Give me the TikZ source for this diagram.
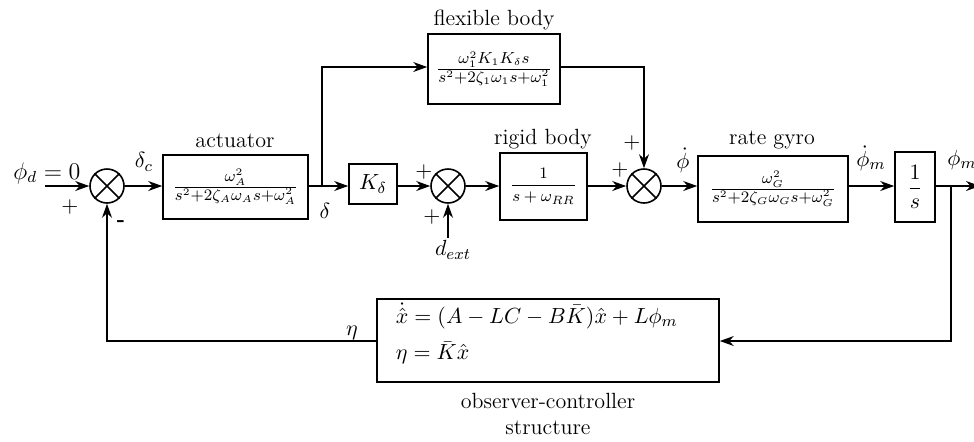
\documentclass[tikz,border=0pt]{standalone}
\usetikzlibrary{arrows.meta}
\begin{document}
\begin{tikzpicture}[x=0.5pt,y=-0.5pt,
  font=\fontsize{11}{13}\selectfont,
  line width=0.8pt,
  blk/.style={draw,rectangle,inner sep=0pt},
  sumj/.style={draw,circle,minimum size=17pt,inner sep=0pt},
  arr/.style={-{Stealth[length=7pt,width=5pt]}},
  lbl/.style={inner sep=0pt}]
\useasboundingbox (0,0) rectangle (974,441);
% sums
\node[sumj] (s1) at (107,186) {};
\node[sumj] (s2) at (448,186) {};
\node[sumj] (s3) at (644,186) {};
\foreach \s in {s1,s2,s3}{
  \draw (\s.north west) -- (\s.south east);
  \draw (\s.north east) -- (\s.south west);
}
% blocks
\node[blk,minimum width=72.5pt,minimum height=32pt] (act) at (235.5,187) {$\frac{\omega_A^2}{s^2+2\zeta_A\omega_A s+\omega_A^2}$};
\node[blk,minimum width=24pt,minimum height=20pt] (K) at (373,184) {$K_\delta$};
\node[blk,minimum width=66pt,minimum height=35pt] (flex) at (494,69) {$\frac{\omega_1^2K_1K_\delta s}{s^2+2\zeta_1\omega_1 s+\omega_1^2}$};
\node[blk,minimum width=43.5pt,minimum height=33.5pt] (rig) at (543.5,186.5) {\fontsize{8.5}{10}\selectfont$\displaystyle\frac{1}{s+\omega_{RR}}$};
\node[blk,minimum width=75pt,minimum height=33pt] (gyro) at (773,189) {$\frac{\omega_G^2}{s^2+2\zeta_G\omega_G s+\omega_G^2}$};
\node[blk,minimum width=20pt,minimum height=35pt] (int) at (915,187) {$\displaystyle\frac{1}{s}$};
\node[blk,minimum width=171pt,minimum height=41.5pt] (obs) at (548,340.5) {};
% coordinates
\coordinate (in) at (45,186);
\coordinate (b1) at (322,186);
\coordinate (b1up) at (322,67);
\coordinate (dext) at (448,238);
\coordinate (out) at (980,186);
\coordinate (b2) at (951,186);
\coordinate (fb) at (951,341);
% connectors
\draw[arr] (in) -- (s1.west);
\draw[arr] (s1.east) -- (s1.east -| act.west);
\draw[arr] (s1.east -| act.east) -- (s1.east -| K.west);
\draw[arr] (b1) -- (b1up) -- (b1up -| flex.west);
\draw[arr] (s1.east -| K.east) -- (s2.west);
\draw[arr] (dext) -- (s2.south);
\draw[arr] (s2.east) -- (s2.east -| rig.west);
\draw[arr] (s2.east -| rig.east) -- (s3.west);
\draw[arr] (b1up -| flex.east) -| (s3.north);
\draw[arr] (s3.east) -- (s3.east -| gyro.west);
\draw[arr] (s3.east -| gyro.east) -- (s3.east -| int.west);
\draw[arr] (s3.east -| int.east) -- (out);
\draw[arr] (b2) -- (fb) -- (fb -| obs.east);
\draw[arr] (fb -| obs.west) -| (s1.south);
% labels
\node[lbl] (lphid) at (47,173) {\fontsize{12}{14}\selectfont$\phi_d=0$};
\node[lbl] (lp1) at (70,207) {$+$};
\node[lbl] (lm1) at (121,224) {\textbf{-}};
\node[lbl] (ldc) at (144,162) {$\delta_c$};
\node[lbl] (lact) at (235,141) {actuator};
\node[lbl] (ld) at (325,211) {$\delta$};
\node[lbl] (lflex) at (494,20) {flexible body};
\node[lbl] (lp2a) at (424,172) {$+$};
\node[lbl] (lp2b) at (432,217) {$+$};
\node[lbl] (ldext) at (453,250) {$d_{ext}$};
\node[lbl] (lrig) at (543,139) {rigid body};
\node[lbl] (lp3a) at (632,143) {$+$};
\node[lbl] (lp3b) at (620,170) {$+$};
\node[lbl] (lphidot) at (683,160) {$\dot\phi$};
\node[lbl] (lgyro) at (772,140) {rate gyro};
\node[lbl] (lphimdot) at (871,158) {$\dot\phi_m$};
\node[lbl] (lphim) at (962,160) {$\phi_m$};
\node[lbl] (leta) at (352,333) {$\eta$};
\node[lbl,anchor=west] (eq1) at (395,316) {$\dot{\hat x}=(A-LC-B\bar K)\hat x+L\phi_m$};
\node[lbl,anchor=west] (eq2) at (395,353) {$\eta=\bar K\hat x$};
\node[lbl,align=center] (lobs) at (548,414) {observer-controller\\structure};
\end{tikzpicture}
\end{document}
